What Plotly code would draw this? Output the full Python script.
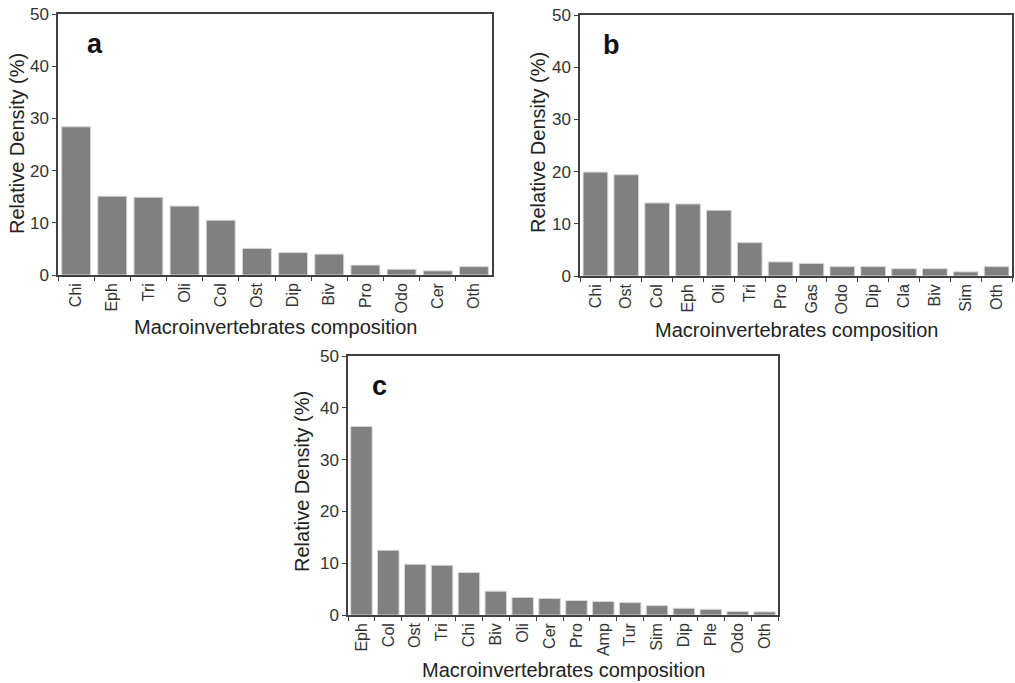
import plotly.graph_objects as go

cats_a = ["Chi", "Eph", "Tri", "Oli", "Col", "Ost", "Dip", "Biv", "Pro", "Odo", "Cer", "Oth"]
vals_a = [28.4, 15.1, 14.9, 13.2, 10.5, 5.1, 4.3, 4.0, 1.9, 1.1, 0.8, 1.6]

cats_b = ["Chi", "Ost", "Col", "Eph", "Oli", "Tri", "Pro", "Gas", "Odo", "Dip", "Cla", "Biv", "Sim", "Oth"]
vals_b = [19.9, 19.4, 14.0, 13.8, 12.6, 6.4, 2.7, 2.4, 1.8, 1.8, 1.4, 1.4, 0.8, 1.8]

cats_c = ["Eph", "Col", "Ost", "Tri", "Chi", "Biv", "Oli", "Cer", "Pro", "Amp", "Tur", "Sim", "Dip", "Ple", "Odo", "Oth"]
vals_c = [36.4, 12.5, 9.8, 9.6, 8.2, 4.6, 3.4, 3.2, 2.8, 2.6, 2.4, 1.8, 1.3, 1.1, 0.7, 0.6]

panel_labels = ["a", "b", "c"]
y_title = "Relative Density (%)"
x_title = "Macroinvertebrates composition"
y_ticks = [0, 10, 20, 30, 40, 50]

W, H = 1015, 683
# plot areas in window pixels: (x0, x1, ytop, ybottom)
areas = [(58, 492, 14, 275), (580, 1012, 15, 276), (348, 778, 356, 615)]
label_dx = [27, 21, 22]
xtitle_y = [327, 330, 670]
ytitle_pos = [(17, 144), (538, 143), (302, 482)]

FONT = "Liberation Sans, Arial, sans-serif"
AXCOL = "#404040"
BARCOL = "#808080"

fig = go.Figure()
datasets = [(cats_a, vals_a), (cats_b, vals_b), (cats_c, vals_c)]
for i, ((cats, vals), (x0, x1, yt, yb)) in enumerate(zip(datasets, areas)):
    sfx = "" if i == 0 else str(i + 1)
    fig.add_trace(go.Bar(
        x=cats, y=vals, xaxis="x" + sfx, yaxis="y" + sfx,
        marker=dict(color=BARCOL, line=dict(color="#d8d8d8", width=1)),
        showlegend=False,
    ))
    xd = [x0 / W, min(x1 / W, 1.0)]
    yd = [1 - yb / H, 1 - yt / H]
    fig.layout["xaxis" + sfx] = dict(
        domain=xd, anchor="y" + sfx, type="category", automargin=False,
        ticklabeloverflow="allow",
        tickangle=-90, tickson="boundaries", ticks="outside", ticklen=4,
        tickcolor=AXCOL, showline=True, linecolor=AXCOL, linewidth=1.5, mirror=True,
        tickfont=dict(family=FONT, size=16, color="#333333"),
        showgrid=False, fixedrange=True,
    )
    fig.layout["yaxis" + sfx] = dict(
        domain=yd, anchor="x" + sfx, range=[0, 50], tickvals=y_ticks, automargin=False,
        ticklabeloverflow="allow",
        ticks="outside", ticklen=4, tickcolor=AXCOL,
        showline=True, linecolor=AXCOL, linewidth=1.5, mirror=True,
        tickfont=dict(family=FONT, size=17, color="#333333"),
        showgrid=False, zeroline=False, fixedrange=True,
    )
    fig.add_annotation(
        text=x_title, xref="paper", yref="paper",
        x=(x0 + x1) / 2 / W, y=1 - xtitle_y[i] / H, xanchor="center", yanchor="middle",
        showarrow=False, font=dict(family=FONT, size=20, color="#222222"),
    )
    tx, ty = ytitle_pos[i]
    fig.add_annotation(
        text=y_title, xref="paper", yref="paper", textangle=-90,
        x=tx / W, y=1 - ty / H, xanchor="center", yanchor="middle",
        showarrow=False, font=dict(family=FONT, size=20, color="#222222"),
    )
    fig.add_annotation(
        text="<b>" + panel_labels[i] + "</b>", xref="paper", yref="paper",
        x=(x0 + label_dx[i]) / W, y=1 - (yt + 30) / H, xanchor="left", yanchor="middle",
        showarrow=False, font=dict(family=FONT, size=27, color="#111111"),
    )

fig.update_layout(
    width=W, height=H, margin=dict(l=0, r=0, t=0, b=0),
    paper_bgcolor="white", plot_bgcolor="white", bargap=0.2,
)
fig.write_html("out.html", config={"displayModeBar": False},
               post_script="document.body.style.margin='0px';")
